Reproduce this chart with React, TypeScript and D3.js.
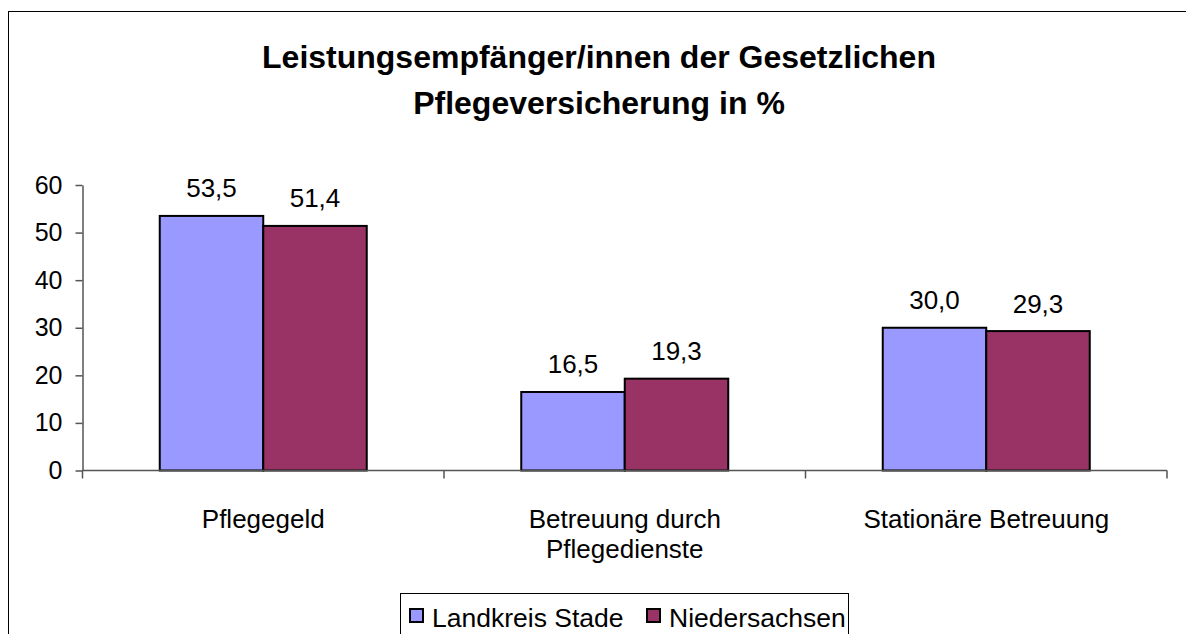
import React, { useEffect, useRef } from "react";
import * as d3 from "d3";

// chart data
const categories = ["Pflegegeld", "Betreuung durch Pflegedienste", "Stationäre Betreuung"];
const categoryLines = [["Pflegegeld"], ["Betreuung durch", "Pflegedienste"], ["Stationäre Betreuung"]];
const series = ["Landkreis Stade", "Niedersachsen"];
const landkreisStade = [53.5, 16.5, 30.0];
const niedersachsen = [51.4, 19.3, 29.3];
const yTicks = [0, 10, 20, 30, 40, 50, 60];
const titleLines = ["Leistungsempfänger/innen der Gesetzlichen", "Pflegeversicherung in %"];

const colors = ["#9999FF", "#993366"];
const font = "'Liberation Sans', Arial, sans-serif";

function App() {
  const svgRef = useRef<SVGSVGElement>(null);
  const W = 1186;
  const H = 634;

  useEffect(() => {
    const svg = d3.select(svgRef.current);
    svg.selectAll("*").remove();

    const left = 82.5;
    const right = 1167;
    const top = 185;
    const bottom = 470.5;

    const y = d3.scaleLinear().domain([0, 60]).range([bottom, top]);
    const x0 = d3.scaleBand().domain(categories).range([left, right]).padding(0);
    const groupW = 207;
    const off = (x0.step() - groupW) / 2;
    const x1 = d3.scaleBand().domain(series).range([off, off + groupW]).padding(0);

    // frame
    svg.append("rect")
      .attr("x", 8.5).attr("y", 11.5)
      .attr("width", W + 20).attr("height", H + 20)
      .attr("fill", "white").attr("stroke", "#000").attr("stroke-width", 1);

    // title
    svg.append("g").selectAll("text").data(titleLines).enter().append("text")
      .attr("x", 599).attr("y", (d, i) => 68 + i * 46)
      .attr("text-anchor", "middle")
      .attr("font-family", font).attr("font-weight", "bold").attr("font-size", 32)
      .text(d => d);

    // bars
    const rows = categories.map((c, i) => ({ c, vals: [landkreisStade[i], niedersachsen[i]] }));
    const grp = svg.append("g").selectAll("g").data(rows).enter().append("g")
      .attr("transform", d => `translate(${x0(d.c)},0)`);

    grp.selectAll("rect").data(d => d.vals.map((v, j) => ({ s: series[j], v, j }))).enter().append("rect")
      .attr("x", d => x1(d.s)!)
      .attr("y", d => y(d.v))
      .attr("width", x1.bandwidth())
      .attr("height", d => bottom - y(d.v))
      .attr("fill", d => colors[d.j])
      .attr("stroke", "#000").attr("stroke-width", 2);

    grp.selectAll("text.val").data(d => d.vals.map((v, j) => ({ s: series[j], v }))).enter().append("text")
      .attr("class", "val")
      .attr("x", d => x1(d.s)! + x1.bandwidth() / 2)
      .attr("y", d => y(d.v) - 18.5)
      .attr("text-anchor", "middle")
      .attr("font-family", font).attr("font-size", 26)
      .text(d => d.v.toFixed(1).replace(".", ","));

    // y axis
    const yAxis = svg.append("g")
      .attr("transform", `translate(${left},0)`)
      .call(d3.axisLeft(y).tickValues(yTicks).tickSize(7).tickSizeOuter(0).tickPadding(13));
    yAxis.select(".domain").attr("stroke", "#555").attr("stroke-width", 1.5);
    yAxis.selectAll(".tick line").attr("stroke", "#555").attr("stroke-width", 1.5);
    yAxis.selectAll("text").attr("font-family", font).attr("font-size", 25).attr("fill", "#000");

    // x axis
    const xg = svg.append("g");
    xg.append("line")
      .attr("x1", left).attr("x2", right).attr("y1", bottom).attr("y2", bottom)
      .attr("stroke", "#555").attr("stroke-width", 1.5);
    const bounds = [left, ...categories.map(c => x0(c)! + x0.step())];
    xg.selectAll("line.t").data(bounds).enter().append("line")
      .attr("class", "t")
      .attr("x1", d => d).attr("x2", d => d)
      .attr("y1", bottom).attr("y2", bottom + 8)
      .attr("stroke", "#555").attr("stroke-width", 1.5);

    const cl = xg.selectAll("g.cl").data(categories).enter().append("text")
      .attr("text-anchor", "middle")
      .attr("font-family", font).attr("font-size", 26);
    cl.each(function (c, i) {
      const t = d3.select(this);
      categoryLines[i].forEach((line, k) => {
        t.append("tspan")
          .attr("x", x0(c)! + x0.step() / 2)
          .attr("y", 527.5 + k * 30)
          .text(line);
      });
    });

    // legend
    const lg = svg.append("g");
    lg.append("rect")
      .attr("x", 400.5).attr("y", 593.5).attr("width", 448).attr("height", 60)
      .attr("fill", "white").attr("stroke", "#000").attr("stroke-width", 1);
    const legX = [410, 647];
    series.forEach((s, i) => {
      lg.append("rect")
        .attr("x", legX[i]).attr("y", 609).attr("width", 13).attr("height", 13)
        .attr("fill", colors[i]).attr("stroke", "#000").attr("stroke-width", 2);
      lg.append("text")
        .attr("x", legX[i] + 22).attr("y", 627)
        .attr("font-family", font).attr("font-size", 26.5)
        .text(s);
    });
  }, []);

  return (
    <svg ref={svgRef} width={W} height={H}
      style={{ position: "absolute", left: 0, top: 0, display: "block" }} />
  );
}

export default App;
